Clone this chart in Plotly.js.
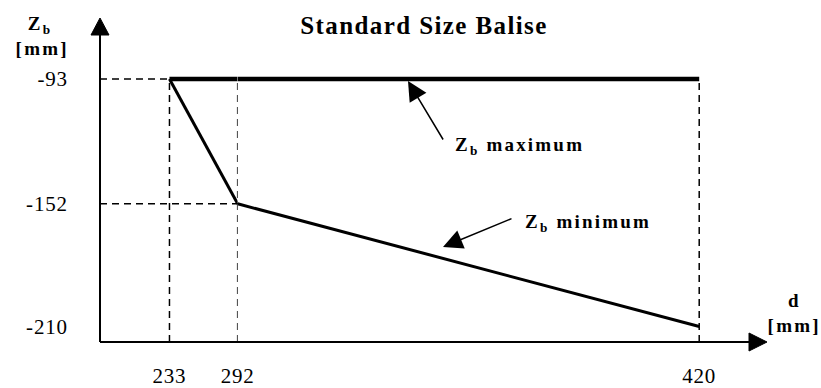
<!DOCTYPE html>
<html>
<head>
<meta charset="utf-8">
<script src="https://cdn.plot.ly/plotly-3.0.1.min.js"></script>
<style>
html,body{margin:0;padding:0;background:#fff;}
#chart{width:821px;height:388px;}
#chart text.gtitle{letter-spacing:1.4px;}
#chart text.annotation-text{letter-spacing:2.2px;}
#chart g.xtick text, #chart g.x2tick text, #chart g.ytick text{letter-spacing:0.8px;}
</style>
</head>
<body>
<div id="chart"></div>
<script>
// ---- data ----
const d = [233, 292, 420];          // distance d [mm]
const zbMax = [-93, -93, -93];      // Zb maximum [mm]
const zbMin = [-93, -152, -210];    // Zb minimum [mm]
const xTicks = [233, 292, 420];
const yTicks = [-93, -152, -210];
const titleText = 'Standard Size Balise';

// ---- schematic (not-to-scale) x axis: two linear segments joined at the break ----
const BREAK = d[1];
const X1_RANGE = [172.9, BREAK];
const X2_RANGE = [BREAK, 438.8];
const Y_RANGE = [-217.3, -64.2];
const SPLIT = 0.2064;

const FONT = "'Liberation Serif', 'Times New Roman', serif";

function split(xs, ys, style) {
  const a = {x: [], y: []}, b = {x: [], y: []};
  xs.forEach((x, i) => {
    if (x <= BREAK) { a.x.push(x); a.y.push(ys[i]); }
    if (x >= BREAK) { b.x.push(x); b.y.push(ys[i]); }
  });
  const out = [];
  if (a.x.length > 1) out.push(Object.assign({type: 'scatter', mode: 'lines', xaxis: 'x', yaxis: 'y', hoverinfo: 'skip', showlegend: false, line: style}, a));
  if (b.x.length > 1) out.push(Object.assign({type: 'scatter', mode: 'lines', xaxis: 'x2', yaxis: 'y', hoverinfo: 'skip', showlegend: false, line: style}, b));
  return out;
}

const dashStyle = {color: '#000', width: 1.5, dash: '7px,5px'};
let traces = [];
// horizontal guides from the y axis to each point
d.forEach((x, i) => {
  traces = traces.concat(split([X1_RANGE[0], x], [zbMin[i], zbMin[i]], dashStyle));
});
// vertical guides from the x axis up to the maximum line
d.forEach((x, i) => {
  const onX2 = x > BREAK;
  traces.push({type: 'scatter', mode: 'lines', x: [x, x], y: [Y_RANGE[0], zbMax[i]],
    xaxis: onX2 ? 'x2' : 'x', yaxis: 'y', hoverinfo: 'skip', showlegend: false, line: dashStyle});
});
// Zb maximum and Zb minimum curves
traces = traces.concat(split(d, zbMin, {color: '#000', width: 3}));
traces = traces.concat(split(d, zbMax, {color: '#000', width: 4.5}));

const tickFont = {family: FONT, size: 21, color: '#000'};
const annFont = {family: FONT, size: 19, color: '#000'};
const px = v => (v - 100) / 667;
const py = v => (342 - v) / 324;
function label(x, y, text) {
  return {xref: 'paper', yref: 'paper', x: px(x), y: py(y), xanchor: 'center', yanchor: 'middle',
          text: text, showarrow: false, font: annFont};
}
const layout = {
  width: 821, height: 388,
  margin: {l: 100, r: 54, t: 18, b: 46},
  paper_bgcolor: '#fff', plot_bgcolor: '#fff',
  showlegend: false,
  title: {text: '<b>' + titleText + '</b>', font: {family: FONT, size: 25, color: '#000'},
          x: 424 / 821, xanchor: 'center', xref: 'container', y: 1 - 25 / 388, yanchor: 'middle', yref: 'container'},
  xaxis: {domain: [0, SPLIT], range: X1_RANGE, tickmode: 'array',
          tickvals: xTicks.filter(v => v <= BREAK), ticktext: xTicks.filter(v => v <= BREAK).map(String),
          ticks: 'outside', ticklen: 15, tickcolor: 'rgba(0,0,0,0)', tickfont: tickFont,
          showgrid: false, zeroline: false, showline: false, fixedrange: true},
  xaxis2: {domain: [SPLIT, 1], range: X2_RANGE, anchor: 'y', tickmode: 'array',
          tickvals: xTicks.filter(v => v > BREAK), ticktext: xTicks.filter(v => v > BREAK).map(String),
          ticks: 'outside', ticklen: 15, tickcolor: 'rgba(0,0,0,0)', tickfont: tickFont,
          showgrid: false, zeroline: false, showline: false, fixedrange: true},
  yaxis: {range: Y_RANGE, tickmode: 'array', tickvals: yTicks, ticktext: yTicks.map(String),
          ticks: 'outside', ticklen: 27, tickcolor: 'rgba(0,0,0,0)', tickfont: tickFont,
          showgrid: false, zeroline: false, showline: false, fixedrange: true},
  shapes: [
    {type: 'line', xref: 'paper', yref: 'paper', x0: 0, x1: 0, y0: 0, y1: 0.97, line: {color: '#000', width: 2}},
    {type: 'line', xref: 'paper', yref: 'paper', x0: 0, x1: 0.98, y0: 0, y1: 0, line: {color: '#000', width: 2}},
    {type: 'path', xref: 'paper', yref: 'paper', xsizemode: 'pixel', ysizemode: 'pixel', xanchor: 0, yanchor: 1,
     path: 'M0,0 L-9,-17 L9,-17 Z', fillcolor: '#000', line: {color: '#000', width: 1}},
    {type: 'path', xref: 'paper', yref: 'paper', xsizemode: 'pixel', ysizemode: 'pixel', xanchor: 1, yanchor: 0,
     path: 'M0,0 L-18,-9 L-18,9 Z', fillcolor: '#000', line: {color: '#000', width: 1}}
  ],
  annotations: [
    label(40, 25, '<b>Z<sub>b</sub></b>'),
    label(42, 49, '<b>[mm]</b>'),
    label(794, 300, '<b>d</b>'),
    label(794, 325, '<b>[mm]</b>'),
    label(519, 146, '<b>Z<sub>b</sub> maximum</b>'),
    label(588, 223, '<b>Z<sub>b</sub> minimum</b>'),
    {xref: 'paper', yref: 'paper', x: px(408), y: py(81), text: '', showarrow: true,
     ax: 36, ay: 60, arrowhead: 2, arrowsize: 2.6, arrowwidth: 1.5, arrowcolor: '#000', standoff: 0},
    {xref: 'paper', yref: 'paper', x: px(443), y: py(247), text: '', showarrow: true,
     ax: 70, ay: -29, arrowhead: 2, arrowsize: 2.6, arrowwidth: 1.5, arrowcolor: '#000', standoff: 0}
  ]
};

Plotly.newPlot('chart', traces, layout, {displayModeBar: false, staticPlot: true});
</script>
</body>
</html>
